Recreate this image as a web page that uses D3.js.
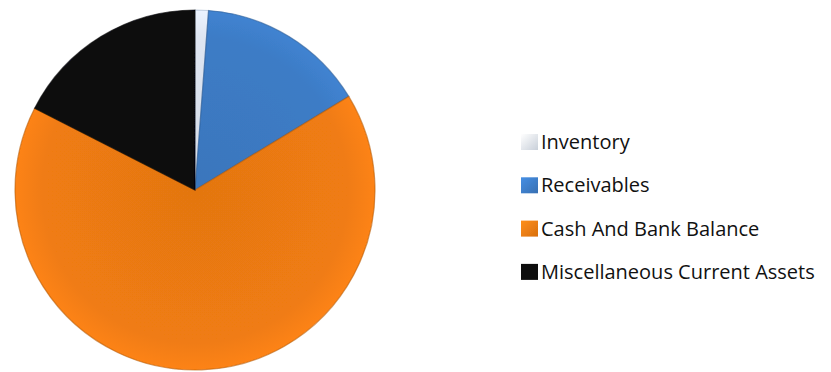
<!DOCTYPE html>
<html>
<head>
<meta charset="utf-8">
<script src="https://cdn.jsdelivr.net/npm/d3@7"></script>
<style>
  html, body { margin: 0; padding: 0; background: #ffffff; }
  svg { display: block; }
</style>
</head>
<body>
<svg id="chart" width="831" height="372"></svg>
<script>
// Current assets breakdown (percent of total)
const categories = ["Inventory", "Receivables", "Cash And Bank Balance", "Miscellaneous Current Assets"];
const values = [1.2, 15.1, 66.2, 17.5];
const colors = ["#dfe6f2", "#3d7cc6", "#f07c12", "#0b0b0e"];
const darkEdges = ["#9fb0c8", "#2a5a94", "#b85c0a", "#000000"];

const svg = d3.select("#chart");
const cx = 195, cy = 190, R = 180;

const defs = svg.append("defs");

// radial shading for each slice (centred on the pie origin)
colors.forEach((c, i) => {
  const g = defs.append("radialGradient")
    .attr("id", "grad" + i)
    .attr("gradientUnits", "userSpaceOnUse")
    .attr("cx", 0).attr("cy", 0).attr("r", R);
  const base = d3.color(c);
  g.append("stop").attr("offset", "0%").attr("stop-color", base.darker(0.15));
  g.append("stop").attr("offset", "85%").attr("stop-color", base);
  g.append("stop").attr("offset", "100%").attr("stop-color", base.brighter(0.15));
});

// legend swatch shading
colors.forEach((c, i) => {
  const g = defs.append("linearGradient")
    .attr("id", "lg" + i)
    .attr("x1", "0").attr("y1", "0").attr("x2", "1").attr("y2", "1");
  const base = d3.color(c);
  g.append("stop").attr("offset", "0%").attr("stop-color", base.brighter(0.4));
  g.append("stop").attr("offset", "100%").attr("stop-color", base.darker(0.3));
});

const soft = defs.append("filter").attr("id", "soft")
  .attr("x", "-5%").attr("y", "-5%").attr("width", "110%").attr("height", "110%");
soft.append("feGaussianBlur").attr("stdDeviation", 0.7);

const pie = d3.pie().sort(null).value(d => d);
const arcs = pie(values);
const arc = d3.arc().innerRadius(0).outerRadius(R);

const pg = svg.append("g")
  .attr("transform", `translate(${cx},${cy})`)
  .attr("filter", "url(#soft)");

pg.selectAll("path.slice")
  .data(arcs)
  .join("path")
  .attr("class", "slice")
  .attr("d", arc)
  .attr("fill", (d, i) => `url(#grad${i})`)
  .attr("stroke", (d, i) => darkEdges[i])
  .attr("stroke-width", 1.2)
  .attr("stroke-opacity", 0.6);

// legend
const ly0 = 142, ldy = 43.3;
const row = svg.append("g").selectAll("g.row")
  .data(categories)
  .join("g")
  .attr("class", "row")
  .attr("transform", (d, i) => `translate(521,${ly0 + i * ldy})`);

row.append("rect")
  .attr("x", 0).attr("y", -8)
  .attr("width", 17).attr("height", 16)
  .attr("fill", (d, i) => `url(#lg${i})`)
  .attr("filter", "url(#soft)");

row.append("text")
  .attr("x", 20)
  .attr("y", 0)
  .attr("dy", "0.35em")
  .attr("font-family", "'Open Sans', 'Noto Sans', sans-serif")
  .attr("font-size", 20)
  .attr("fill", "#111")
  .text(d => d);
</script>
</body>
</html>
